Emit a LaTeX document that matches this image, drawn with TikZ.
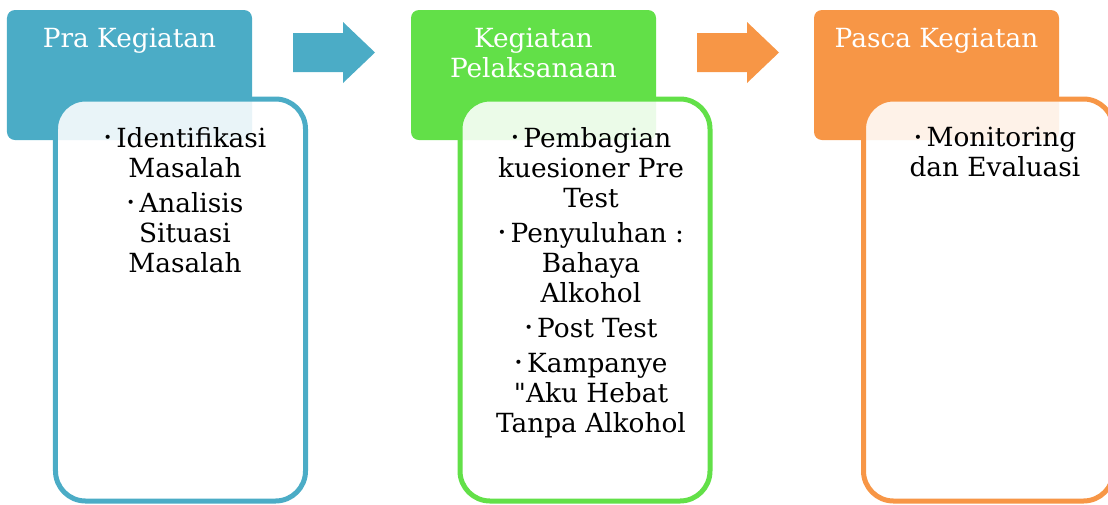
\documentclass[tikz,border=0pt]{standalone}
\usepackage{fontspec}
\setmainfont{DejaVu Serif}
\newfontfamily\plainfont{DejaVu Serif}
\usetikzlibrary{positioning}

\definecolor{praBlue}{RGB}{75,172,198}
\definecolor{lakGreen}{RGB}{98,224,72}
\definecolor{pascaOrange}{RGB}{247,150,70}

\newcommand{\bul}{\raisebox{2.6pt}{\footnotesize\textbullet}\,}

\begin{document}
\begin{tikzpicture}[x=0.2mm,y=-0.2mm,
    header/.style={fill=#1,rounded corners=1.6mm,minimum width=49mm,
                   minimum height=26mm,inner sep=0pt},
    headtext/.style={text=white,align=center,inner sep=0pt,
                     font=\fontsize{15}{17}\selectfont},
    body/.style={draw=#1,fill=white,fill opacity=0.88,line width=1mm,
                 rounded corners=6mm,minimum width=50mm,
                 minimum height=80.4mm,inner sep=0pt},
    bodytext/.style={align=center,inner sep=0pt,anchor=north,
                     font=\fontsize{15}{17}\selectfont}]
  \useasboundingbox (0,0) rectangle (1108,504);
  \clip (0,0) rectangle (1108,504);

  % headers
  \node[header=praBlue] (pra) at (129.5,75) {};
  \node[header=lakGreen] (lak) at (533.5,75) {};
  \node[header=pascaOrange] (pasca) at (936.5,75) {};

  % bodies on top
  \node[body=praBlue] (praBody) at (180.5,300) {};
  \node[body=lakGreen] (lakBody) at (585,300) {};
  \node[body=pascaOrange] (pascaBody) at (988.5,300) {};

  \node[headtext,anchor=north] (praT) at (129.5,28) {Pra Kegiatan};
  \node[headtext,anchor=north] (lakT) at (533.5,28) {Kegiatan\\Pelaksanaan};
  \node[headtext,anchor=north] (pascaT) at (936.5,28) {Pasca Kegiatan};

  \node[bodytext] (praList) at (185,127) {\bul Identifikasi\\Masalah\\[3pt]
    \bul Analisis\\Situasi\\Masalah};
  \node[bodytext] (lakList) at (591,127) {\bul Pembagian\\kuesioner Pre\\Test\\[3pt]
    \bul Penyuluhan :\\Bahaya\\Alkohol\\[3pt]
    \bul Post Test\\[3pt]
    \bul Kampanye\\{\plainfont"}Aku Hebat\\Tanpa Alkohol};
  \node[bodytext] (pascaList) at (995,127) {\bul Monitoring\\dan Evaluasi};

  % block arrows
  \fill[praBlue] (293,33) -- (343,33) -- (343,22) -- (375,52.5) -- (343,83)
    -- (343,72) -- (293,72) -- cycle;
  \fill[pascaOrange] (697,33) -- (747,33) -- (747,22) -- (779,52.5) -- (747,83)
    -- (747,72) -- (697,72) -- cycle;
\end{tikzpicture}
\end{document}
